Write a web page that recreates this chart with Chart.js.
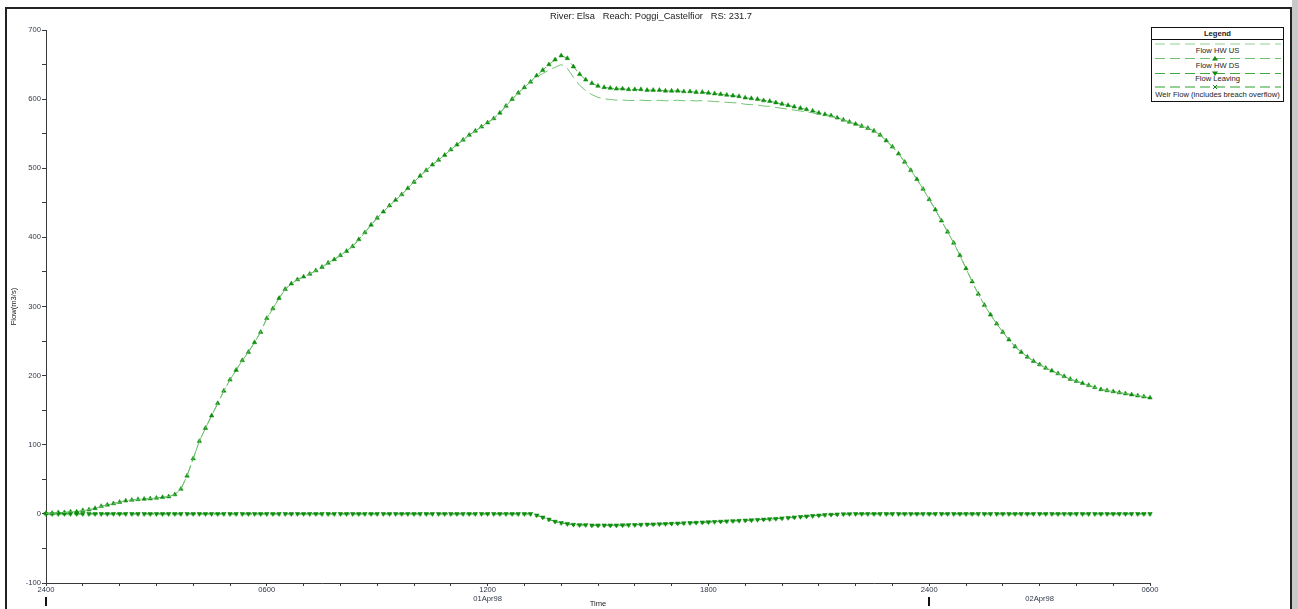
<!DOCTYPE html>
<html>
<head>
<meta charset="utf-8">
<script src="https://cdn.jsdelivr.net/npm/chart.js@4.4.1/dist/chart.umd.min.js"></script>
<style>
  html, body { margin: 0; padding: 0; background: #fff; }
  #wrap { position: relative; width: 1298px; height: 609px; overflow: hidden; background: #fff; font-family: Arial, "Liberation Sans", sans-serif; }
  #c { position: absolute; left: 0; top: 0; }
  #title { position: absolute; left: 0; width: 1302px; top: 11px; text-align: center; font-size: 9.3px; color: #222; white-space: pre; }
  .bl { position: absolute; background: #222; }
  #legend { position: absolute; left: 1151px; top: 27px; width: 131px; height: 73px; border: 1px solid #111; background: #fff; color: #222; font-size: 7.6px; }
  #legend .t { position: absolute; left: 0; width: 131px; text-align: center; white-space: nowrap; line-height: 9px; }
  #legend svg { position: absolute; left: 0; top: 0; }
</style>
</head>
<body>
<div id="wrap">
  <canvas id="c" width="1298" height="609"></canvas>
  <div class="bl" style="left:5px; top:7px; width:2px; height:602px;"></div>
  <div class="bl" style="left:5px; top:7px; width:1286px; height:2px;"></div>
  <div class="bl" style="left:1290px; top:7px; width:2px; height:602px;"></div>
  <div style="position:absolute; left:1292px; top:0; width:6px; height:609px; background:#c8c8c8;"></div>
  <div id="title">River: Elsa   Reach: Poggi_Castelfior   RS: 231.7</div>
  <div id="legend">
    <svg width="131" height="73" id="legsvg"></svg>
    <div class="t" style="top:1px; font-weight:bold;">Legend</div>
    <div class="t" style="top:18px;">Flow HW US</div>
    <div class="t" style="top:33px;">Flow HW DS</div>
    <div class="t" style="top:46px;">Flow Leaving</div>
    <div class="t" style="top:62px;">Weir Flow (includes breach overflow)</div>
  </div>
</div>
<script>
// ---- data, one value every 10 minutes from 31Mar98 2400 to 02Apr98 0600 ----
const times = [];
for (let k = 0; k <= 180; k++) {
  const m = k * 10;
  const h = Math.floor(m / 60) % 24;
  const mm = m % 60;
  times.push((h === 0 && mm === 0 ? '24' : String(h).padStart(2, '0')) + String(mm).padStart(2, '0'));
}

const flowHWDS = [
  1,1,2,2,3,3,5,6,8,11,
  13,15,17,19,20,21,21.5,22,23,24,
  25,28,36,55,80,105,124,142,160,178,
  194,208,222,234,248,263,283,297,312,325,
  333,339,343,347,352,357,363,368,374,380,
  387,397,407,418,428,437,446,454,462,471,
  480,489,497,505,512,519,527,534,541,548,
  554,560,566,572,580,590,600,609,617,625,
  634,642,650,657,663,659,647,636,628,623,
  619,617,616,615,615,614,614,614,613,613,
  613,612,612,612,611,611,610,610,609,608,
  607,606,605,604,602,601,600,598,597,595,
  593,591,589,587,585,583,580,578,576,573,
  570,567,564,561,558,554,548,540,531,521,
  509,497,484,470,455,440,424,408,392,374,
  355,336,318,302,288,275,263,252,242,234,
  227,221,216,211,207,203,199,195,192,189,
  186,183,180,178.5,177,175.5,174,172.5,171,169.5,
  168
];

const flowHWUS = [
  1,1,2,2,3,3,5,6,8,11,
  13,15,17,19,20,21,21.5,22,23,24,
  25,28,36,55,80,105,124,142,160,178,
  194,208,222,234,248,263,283,297,312,325,
  333,339,343,347,352,357,363,368,374,380,
  387,397,407,418,428,437,446,454,462,471,
  480,489,497,505,512,519,527,534,541,548,
  554,560,566,572,580,590,600,609,617,625,
  632,637,642,646,650,644.5,631.5,620,612,606.5,
  602.5,600.5,599.5,598.5,598.7,598,598.2,598.5,597.8,598,
  598.3,597.6,598,598.3,597.6,598,597.4,597.8,597.2,596.6,
  596,595.4,594.8,594.2,592.6,592,591.5,590,589.5,588,
  586.7,585.4,584.1,582.8,581.5,580.2,577.9,576.5,575,572.4,
  569.7,566.9,564,561,558,554,548,540,531,521,
  509,497,484,470,455,440,424,408,392,374,
  355,336,318,302,288,275,263,252,242,234,
  227,221,216,211,207,203,199,195,192,189,
  186,183,180,178.5,177,175.5,174,172.5,171,169.5,
  168
];

const flowLeaving = [
  0,0,0,0,0,0,0,0,0,0,
  0,0,0,0,0,0,0,0,0,0,
  0,0,0,0,0,0,0,0,0,0,
  0,0,0,0,0,0,0,0,0,0,
  0,0,0,0,0,0,0,0,0,0,
  0,0,0,0,0,0,0,0,0,0,
  0,0,0,0,0,0,0,0,0,0,
  0,0,0,0,0,0,0,0,0,0,
  -2,-5,-8,-11,-13,-14.5,-15.5,-16,-16,-16.5,
  -16.5,-16.5,-16.5,-16.5,-16.3,-16,-15.8,-15.5,-15.2,-15,
  -14.7,-14.4,-14,-13.7,-13.4,-13,-12.6,-12.2,-11.8,-11.4,
  -11,-10.6,-10.2,-9.8,-9.4,-9,-8.5,-8,-7.5,-7,
  -6.3,-5.6,-4.9,-4.2,-3.5,-2.8,-2.1,-1.5,-1,-0.6,
  -0.3,-0.1,0,0,0,0,0,0,0,0,
  0,0,0,0,0,0,0,0,0,0,
  0,0,0,0,0,0,0,0,0,0,
  0,0,0,0,0,0,0,0,0,0,
  0,0,0,0,0,0,0,0,0,0,
  0
];

const weirFlow = [
  0,0,0,0,0,0,0,0,0,0,
  0,0,0,0,0,0,0,0,0,0,
  0,0,0,0,0,0,0,0,0,0,
  0,0,0,0,0,0,0,0,0,0,
  0,0,0,0,0,0,0,0,0,0,
  0,0,0,0,0,0,0,0,0,0,
  0,0,0,0,0,0,0,0,0,0,
  0,0,0,0,0,0,0,0,0,0,
  -2,-5,-8,-11,-13,-14.5,-15.5,-16,-16,-16.5,
  -16.5,-16.5,-16.5,-16.5,-16.3,-16,-15.8,-15.5,-15.2,-15,
  -14.7,-14.4,-14,-13.7,-13.4,-13,-12.6,-12.2,-11.8,-11.4,
  -11,-10.6,-10.2,-9.8,-9.4,-9,-8.5,-8,-7.5,-7,
  -6.3,-5.6,-4.9,-4.2,-3.5,-2.8,-2.1,-1.5,-1,-0.6,
  -0.3,-0.1,0,0,0,0,0,0,0,0,
  0,0,0,0,0,0,0,0,0,0,
  0,0,0,0,0,0,0,0,0,0,
  0,0,0,0,0,0,0,0,0,0,
  0,0,0,0,0,0,0,0,0,0,
  0
];

// tick labels by category index (hourly ticks every 6 indices)
const xTickLabels = {
  0: '2400',
  36: '0600',
  72: ['1200', '01Apr98'],
  108: '1800',
  144: '2400',
  162: ['', '02Apr98'],
  180: '0600'
};
const dayBoundaries = [0, 144];
const yTickLabels = ['700', '600', '500', '400', '300', '200', '100', '0', '-100'];

const seriesNames = ['Flow HW US', 'Flow HW DS', 'Flow Leaving', 'Weir Flow (includes breach overflow)'];

// ---- legend samples ----
(function () {
  const svg = document.getElementById('legsvg');
  const ns = 'http://www.w3.org/2000/svg';
  function line(y, color) {
    const l = document.createElementNS(ns, 'line');
    l.setAttribute('x1', 3); l.setAttribute('x2', 129);
    l.setAttribute('y1', y); l.setAttribute('y2', y);
    l.setAttribute('stroke', color); l.setAttribute('stroke-width', 1.2);
    l.setAttribute('stroke-dasharray', '10 5');
    svg.appendChild(l);
  }
  function poly(pts, color) {
    const p = document.createElementNS(ns, 'polygon');
    p.setAttribute('points', pts); p.setAttribute('fill', color);
    svg.appendChild(p);
  }
  const sep = document.createElementNS(ns, 'line');
  sep.setAttribute('x1', 0); sep.setAttribute('x2', 131); sep.setAttribute('y1', 11.5); sep.setAttribute('y2', 11.5);
  sep.setAttribute('stroke', '#111'); sep.setAttribute('stroke-width', 1);
  svg.appendChild(sep);
  line(16, '#8fd28f');
  line(30.5, '#6cc06c'); poly('63,28 66,32.5 60,32.5', '#108a10');
  line(45.5, '#40a840'); poly('60,43.5 66,43.5 63,48', '#108a10');
  line(59, '#2f9f2f');
  const x1 = document.createElementNS(ns, 'path');
  x1.setAttribute('d', 'M61,57 L65,61 M65,57 L61,61'); x1.setAttribute('stroke', '#108a10'); x1.setAttribute('stroke-width', 1);
  svg.appendChild(x1);
})();

// ---- chart ----
const dayMarks = {
  id: 'dayMarks',
  afterDraw(chart) {
    const ctx = chart.ctx;
    const xs = chart.scales.x;
    ctx.save();
    ctx.fillStyle = '#111';
    dayBoundaries.forEach(i => {
      const px = Math.round(xs.getPixelForValue(i));
      ctx.fillRect(px - 1, 597, 2, 9);
    });
    ctx.restore();
  }
};

const tickFont = { family: 'Arial, "Liberation Sans", sans-serif', size: 7.6, lineHeight: 1.15 };
const tickColor = '#2f3848';
const axisColor = '#3a3a3a';

new Chart(document.getElementById('c'), {
  type: 'line',
  data: {
    labels: times,
    datasets: [
      {
        label: seriesNames[0], data: flowHWUS,
        borderColor: '#72c472', borderWidth: 1, borderDash: [12, 5],
        pointRadius: 0, tension: 0, fill: false
      },
      {
        label: seriesNames[1], data: flowHWDS,
        borderColor: '#5cb85c', borderWidth: 1, borderDash: [10, 4],
        pointStyle: 'triangle', pointRadius: 2.6, pointBorderWidth: 0.5,
        pointBackgroundColor: '#0d8d0d', pointBorderColor: '#0d8d0d',
        tension: 0, fill: false
      },
      {
        label: seriesNames[2], data: flowLeaving,
        borderColor: '#4cb04c', borderWidth: 1, borderDash: [10, 4],
        pointStyle: 'triangle', pointRotation: 180, pointRadius: 2.6, pointBorderWidth: 0.5,
        pointBackgroundColor: '#0d8d0d', pointBorderColor: '#0d8d0d',
        tension: 0, fill: false
      },
      {
        label: seriesNames[3], data: weirFlow,
        borderColor: '#3aa83a', borderWidth: 1, borderDash: [10, 4],
        pointStyle: 'crossRot', pointRadius: 2, pointBorderWidth: 1,
        pointBackgroundColor: '#1a961a', pointBorderColor: '#1a961a',
        tension: 0, fill: false
      }
    ]
  },
  options: {
    responsive: false,
    animation: false,
    devicePixelRatio: 1,
    layout: { padding: { top: 30, left: 0, right: 148, bottom: 0 } },
    plugins: { legend: { display: false }, tooltip: { enabled: false }, title: { display: false } },
    scales: {
      x: {
        type: 'category',
        offset: false,
        grid: { display: true, drawOnChartArea: false, drawTicks: true, tickLength: 3, color: axisColor, lineWidth: 1 },
        border: { display: true, color: axisColor, width: 1 },
        ticks: {
          autoSkip: false, maxRotation: 0, minRotation: 0, padding: 0,
          font: tickFont, color: tickColor,
          callback: (v) => (xTickLabels[v] !== undefined ? xTickLabels[v] : '')
        },
        afterBuildTicks: (s) => {
          const t = [];
          for (let i = 0; i <= 180; i += 6) t.push({ value: i });
          s.ticks = t;
        },
        afterFit: (s) => { s.height = 26; },
        title: { display: true, text: 'Time', color: '#222', font: { family: 'Arial, "Liberation Sans", sans-serif', size: 7.6 }, padding: { top: 0, bottom: 0.4 } }
      },
      y: {
        min: -100, max: 700,
        grid: { display: true, drawOnChartArea: false, drawTicks: true, tickLength: 4, color: axisColor, lineWidth: 1 },
        border: { display: true, color: axisColor, width: 1 },
        ticks: {
          stepSize: 50, padding: 1, font: tickFont, color: tickColor,
          callback: (v) => (v % 100 === 0 ? yTickLabels[(700 - v) / 100] : '')
        },
        afterFit: (s) => { s.width = 46; },
        title: { display: true, text: 'Flow(m3/s)', color: '#222', font: { family: 'Arial, "Liberation Sans", sans-serif', size: 7.6 }, padding: { top: 9.4, bottom: 0 } }
      }
    }
  },
  plugins: [dayMarks]
});
</script>
</body>
</html>
